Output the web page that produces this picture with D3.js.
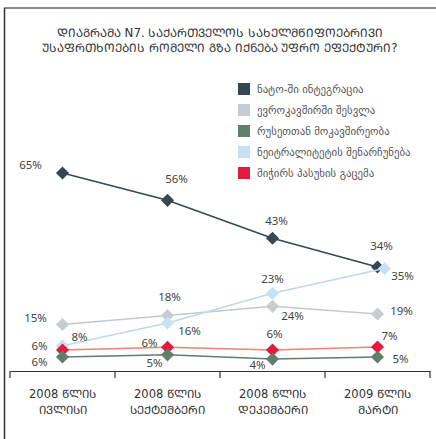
<!DOCTYPE html>
<html>
<head>
<meta charset="utf-8">
<script src="https://cdn.jsdelivr.net/npm/d3@7"></script>
<style>
  body { margin: 0; background: #fff; }
  svg { display: block; }
</style>
</head>
<body>
<svg width="436" height="439"></svg>
<script>
// categories and series
var months = ["2008 წლის|ივლისი", "2008 წლის|სექტემბერი", "2008 წლის|დეკემბერი", "2009 წლის|მარტი"];
var seriesNames = ["ნატო-ში ინტეგრაცია", "ევროკავშირში შესვლა", "რუსეთთან მოკავშირეობა", "ნეიტრალიტეტის შენარჩუნება", "მიჭირს პასუხის გაცემა"];
var seriesColors = ["#364750", "#c6ccd2", "#5f7e6b", "#c8e0f4", "#e31b3e"];
var lineColors = ["#364750", "#c3c9ce", "#5f7e6b", "#bcd9f0", "#ef8273"];

// values as plotted
var natoValues = [65, 56, 43.5, 34];
var euValues = [15, 18, 21, 18.5];
var russiaValues = [4.3, 5, 3.6, 4.3];
var neutralValues = [8, 15.5, 25.3, 33.5];
var dkValues = [6.6, 7.5, 6.6, 7.6];

// value labels as printed
var natoLabels = ["65%", "56%", "43%", "34%"];
var euLabels = ["15%", "18%", "24%", "19%"];
var russiaLabels = ["6%", "5%", "4%", "5%"];
var neutralLabels = ["8%", "16%", "23%", "35%"];
var dkLabels = ["6%", "6%", "6%", "7%"];

var titleLines = ["დიაგრამა N7. საქართველოს სახელმწიფოებრივი", "უსაფრთხოების რომელი გზა იქნება უფრო ეფექტური?"];

// Mkhedruli -> Mtavruli capitals
function caps(s) {
  return s.replace(/[\u10D0-\u10F0]/g, function(c) {
    return String.fromCharCode(c.charCodeAt(0) - 0x10D0 + 0x1C90);
  });
}

var svg = d3.select("svg");

// frame
svg.append("line").attr("x1", 4).attr("x2", 436).attr("y1", 8).attr("y2", 8)
  .attr("stroke", "#8a8a8a").attr("stroke-width", 2);
svg.append("line").attr("x1", 4.5).attr("x2", 4.5).attr("y1", 8).attr("y2", 439)
  .attr("stroke", "#333").attr("stroke-width", 1.5);

// title
svg.append("g").selectAll("text")
  .data(titleLines)
  .enter().append("text")
  .attr("x", 220)
  .attr("y", (d, i) => 37 + i * 15)
  .attr("text-anchor", "middle")
  .style("font-family", "DejaVu Sans")
  .style("font-size", "11.8px")
  .style("fill", "#333")
  .text(d => caps(d));

var x = d3.scaleBand().domain(months).range([10, 430]);
var y = d3.scaleLinear().domain([0, 100]).range([370, 67]);

function px(i) { return x(months[i]) + x.bandwidth() / 2; }

// x axis
var axis = svg.append("g")
  .attr("transform", "translate(0,371)")
  .call(d3.axisBottom(x).tickSize(0).tickFormat(""));
axis.select(".domain").attr("stroke", "#333").attr("stroke-width", 1.2);
axis.selectAll(".tick").remove();
axis.selectAll(".sep")
  .data(d3.range(months.length + 1))
  .enter().append("line")
  .attr("x1", i => i < months.length ? x(months[i]) : x.range()[1])
  .attr("x2", i => i < months.length ? x(months[i]) : x.range()[1])
  .attr("y1", 0).attr("y2", 7)
  .attr("stroke", "#333").attr("stroke-width", 1.2);

var xl = svg.append("g").selectAll("text")
  .data(months)
  .enter().append("text")
  .attr("text-anchor", "middle")
  .style("font-family", "DejaVu Sans")
  .style("font-size", "11.5px")
  .style("fill", "#333");
xl.each(function(d, i) {
  var parts = d.split("|");
  d3.select(this).selectAll("tspan")
    .data(parts)
    .enter().append("tspan")
    .attr("x", px(i))
    .attr("y", (p, j) => 398 + j * 16)
    .text(p => caps(p));
});

// series, in drawing order
var series = [
  { v: natoValues, l: natoLabels, c: 0, off: [[-32, -4], [9, -17], [4, -13], [4, -17]] },
  { v: euValues, l: euLabels, c: 1, off: [[-27, -3], [2, -14], [20, 14], [24, 1]] },
  { v: neutralValues, l: neutralLabels, c: 3, nudge: [0, 0, 0, 7], off: [[17, -5], [22, 12], [0, -10], [18, 12]] },
  { v: dkValues, l: dkLabels, c: 4, off: [[-23, 0], [-18, 0], [2, -12], [12, -7]] },
  { v: russiaValues, l: russiaLabels, c: 2, off: [[-23, 9], [-13, 12], [-15, 10], [23, 6]] }
];

var line = d3.line()
  .x(d => d.x)
  .y(d => y(d.v));

var diamond = d3.symbol().type(d3.symbolDiamond2).size(110);

var plot = svg.append("g");
series.forEach(function(s) {
  var pts = s.v.map((v, i) => ({ v: v, x: px(i) + (s.nudge ? s.nudge[i] : 0), label: s.l[i], off: s.off[i] }));
  var g = plot.append("g");
  g.append("path")
    .datum(pts)
    .attr("d", line)
    .attr("fill", "none")
    .attr("stroke", lineColors[s.c])
    .attr("stroke-width", 1.5);
  g.selectAll("path.m")
    .data(pts)
    .enter().append("path")
    .attr("class", "m")
    .attr("d", diamond)
    .attr("transform", d => "translate(" + d.x + "," + y(d.v) + ")")
    .attr("fill", seriesColors[s.c]);
  s.pts = pts;
});

// value labels on top
series.forEach(function(s) {
  plot.append("g").selectAll("text")
    .data(s.pts)
    .enter().append("text")
    .attr("x", d => d.x + d.off[0])
    .attr("y", d => y(d.v) + d.off[1])
    .attr("text-anchor", "middle")
    .style("font-family", "Noto Sans")
    .style("font-size", "11.5px")
    .style("fill", "#444")
    .text(d => d.label);
});

// legend
var legend = svg.append("g").selectAll("g")
  .data(seriesNames)
  .enter().append("g")
  .attr("transform", (d, i) => "translate(238," + (89 + i * 21) + ")");
legend.append("rect")
  .attr("x", 0).attr("y", -6)
  .attr("width", 12).attr("height", 12)
  .attr("fill", (d, i) => seriesColors[i]);
legend.append("text")
  .attr("x", 19).attr("y", 4)
  .style("font-family", "DejaVu Sans")
  .style("font-size", "10.8px")
  .style("fill", "#555")
  .text(d => d);
</script>
</body>
</html>
